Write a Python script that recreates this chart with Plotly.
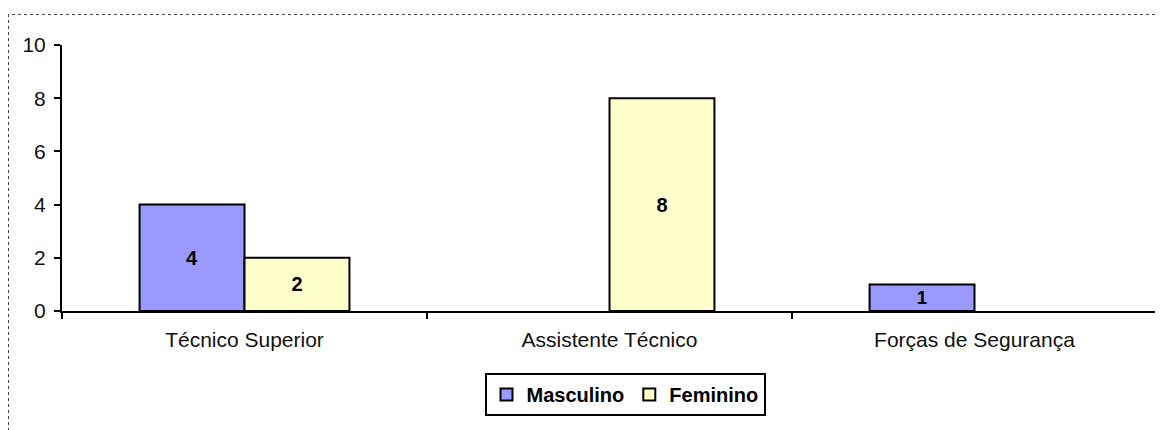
import plotly.graph_objects as go

categories = ["Técnico Superior", "Assistente Técnico", "Forças de Segurança"]
masculino = [4, None, 1]
feminino = [2, 8, None]
y_ticks = [0, 2, 4, 6, 8, 10]

# page body has an 8px margin, so figure coordinates = page coordinates - 8
OFF = 8
W, H = 1163, 430
L, R, T, B = 62 - OFF, 14, 45 - OFF, 127
pw, ph = W - L - R, H - T - B

def px_x(p):
    return (p - OFF - L) / pw

def px_y(p):
    return (H - B - (p - OFF)) / ph

def labels(vals):
    return ["" if v is None else str(v) for v in vals]

fig = go.Figure()
fig.add_trace(go.Bar(
    name="Masculino", x=categories, y=masculino, text=labels(masculino),
    marker=dict(color="#9999FF", line=dict(color="black", width=2)),
))
fig.add_trace(go.Bar(
    name="Feminino", x=categories, y=feminino, text=labels(feminino),
    marker=dict(color="#FFFFCC", line=dict(color="black", width=2)),
))
fig.update_traces(textposition="inside", insidetextanchor="middle",
                  textfont=dict(family="Liberation Sans, Arial", size=20, color="black", weight="bold"),
                  textangle=0, cliponaxis=False)

fig.update_layout(
    width=W, height=H,
    margin=dict(l=L, r=R, t=T, b=B),
    paper_bgcolor="white", plot_bgcolor="white",
    barmode="group", bargap=0.425, bargroupgap=0,
    font=dict(family="Liberation Sans, Arial", size=21, color="black"),
    showlegend=True,
    legend=dict(orientation="h", x=px_x(625), xanchor="center", y=px_y(373), yanchor="top",
                bordercolor="black", borderwidth=2, bgcolor="white",
                font=dict(size=20, weight="bold"), itemclick=False, traceorder="normal",
                itemwidth=30),
    xaxis=dict(showline=True, linecolor="black", linewidth=2, ticks="outside",
               tickson="boundaries", ticklen=6, tickwidth=2, tickcolor="black",
               showgrid=False, ticklabelstandoff=9, tickfont=dict(size=21, color="#111111")),
    yaxis=dict(range=[0, 10], tickvals=y_ticks, showline=True, linecolor="black", linewidth=2,
               ticks="outside", ticklen=6, tickwidth=2, tickcolor="black", showgrid=False,
               zeroline=False, ticklabelstandoff=4, tickfont=dict(size=21, color="#111111")),
    shapes=[dict(type="rect", xref="paper", yref="paper",
                 x0=px_x(8.5), x1=px_x(1190), y0=px_y(460), y1=px_y(14.5),
                 line=dict(color="#444444", width=1, dash="dot"), layer="below")],
)

fig.write_html("out.html")
